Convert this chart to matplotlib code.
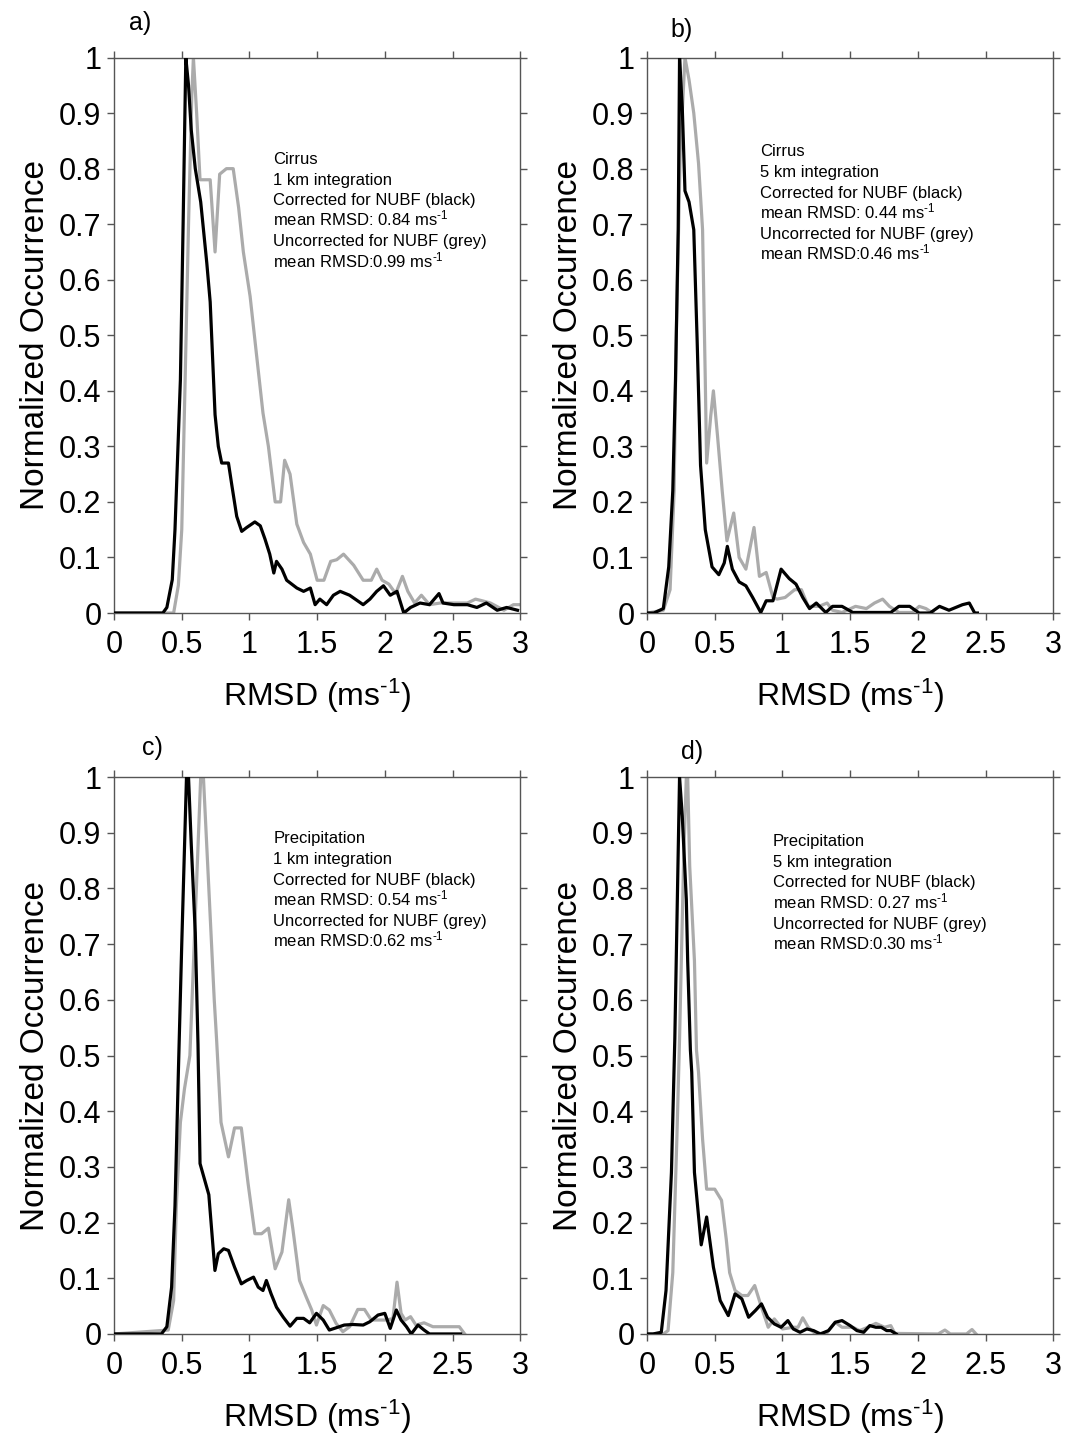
import matplotlib
matplotlib.use("Agg")
import matplotlib.pyplot as plt

plt.rcParams['font.family'] = ['Liberation Sans', 'DejaVu Sans']
plt.rcParams['mathtext.fontset'] = 'custom'
plt.rcParams['mathtext.rm'] = 'Liberation Sans'
plt.rcParams['mathtext.it'] = 'Liberation Sans:italic'
plt.rcParams['mathtext.bf'] = 'Liberation Sans:bold'

# a) cirrus, 1 km
a_x_black = [0.0, 0.36, 0.39, 0.43, 0.45, 0.49, 0.51, 0.53, 0.55, 0.57, 0.60, 0.64, 0.685, 0.71, 0.746,
             0.77, 0.795, 0.845, 0.87, 0.906, 0.943, 0.98, 1.04, 1.08, 1.115, 1.15, 1.18, 1.20, 1.24,
             1.275, 1.35, 1.40, 1.45, 1.485, 1.52, 1.57, 1.62, 1.67, 1.74, 1.84, 1.89, 1.94, 1.99,
             2.04, 2.09, 2.14, 2.19, 2.26, 2.33, 2.40, 2.43, 2.51, 2.61, 2.68, 2.75, 2.83, 2.90, 2.98]
a_y_black = [0.0, 0.0, 0.01, 0.06, 0.15, 0.42, 0.70, 1.0, 0.95, 0.87, 0.80, 0.74, 0.63, 0.56, 0.357,
             0.30, 0.27, 0.27, 0.23, 0.174, 0.147, 0.154, 0.164, 0.157, 0.133, 0.106, 0.072, 0.093, 0.079,
             0.059, 0.045, 0.039, 0.045, 0.015, 0.025, 0.015, 0.032, 0.039, 0.032, 0.015, 0.025, 0.039, 0.049,
             0.032, 0.039, 0.0, 0.01, 0.018, 0.015, 0.035, 0.018, 0.015, 0.015, 0.01, 0.018, 0.005, 0.01, 0.005]
a_x_grey = [0.0, 0.44, 0.475, 0.50, 0.525, 0.55, 0.574, 0.586, 0.61, 0.635, 0.67, 0.71, 0.746, 0.78,
            0.83, 0.88, 0.92, 0.955, 1.005, 1.05, 1.10, 1.14, 1.19, 1.23, 1.26, 1.30, 1.35, 1.40, 1.45,
            1.50, 1.55, 1.60, 1.645, 1.695, 1.77, 1.84, 1.90, 1.94, 1.98, 2.03, 2.08, 2.13, 2.17, 2.22,
            2.27, 2.33, 2.41, 2.51, 2.61, 2.67, 2.72, 2.78, 2.88, 2.95, 3.0]
a_y_grey = [0.0, 0.0, 0.05, 0.15, 0.42, 0.70, 0.93, 1.0, 0.90, 0.78, 0.78, 0.78, 0.65, 0.79,
            0.80, 0.80, 0.73, 0.65, 0.57, 0.47, 0.36, 0.30, 0.20, 0.20, 0.275, 0.25, 0.16, 0.127, 0.106,
            0.059, 0.059, 0.093, 0.096, 0.106, 0.086, 0.059, 0.059, 0.079, 0.059, 0.052, 0.035, 0.066, 0.039, 0.018,
            0.032, 0.015, 0.018, 0.018, 0.018, 0.025, 0.022, 0.018, 0.005, 0.015, 0.015]

# b) cirrus, 5 km
b_x_black = [0.0, 0.05, 0.12, 0.16, 0.19, 0.21, 0.23, 0.24, 0.26, 0.28, 0.31, 0.345, 0.37, 0.395,
             0.43, 0.48, 0.53, 0.57, 0.593, 0.63, 0.68, 0.73, 0.78, 0.84, 0.88, 0.93, 0.99, 1.05,
             1.10, 1.15, 1.20, 1.25, 1.32, 1.37, 1.44, 1.52, 1.80, 1.86, 1.94, 2.01, 2.09, 2.16,
             2.23, 2.33, 2.38, 2.42, 2.44]
b_y_black = [0.0, 0.0, 0.008, 0.083, 0.22, 0.42, 0.69, 1.0, 0.91, 0.76, 0.74, 0.69, 0.49, 0.266,
             0.15, 0.083, 0.069, 0.09, 0.12, 0.079, 0.056, 0.049, 0.028, 0.001, 0.022, 0.022, 0.079, 0.062,
             0.052, 0.028, 0.008, 0.018, 0.001, 0.012, 0.012, 0.001, 0.001, 0.012, 0.012, 0.0, 0.0, 0.012,
             0.005, 0.015, 0.018, 0.0, 0.0]
b_x_grey = [0.0, 0.12, 0.17, 0.20, 0.215, 0.245, 0.28, 0.31, 0.345, 0.38, 0.41, 0.43, 0.44, 0.47,
            0.49, 0.52, 0.555, 0.59, 0.64, 0.68, 0.73, 0.79, 0.83, 0.88, 0.93, 0.96, 1.02, 1.09,
            1.14, 1.19, 1.27, 1.33, 1.37, 1.44, 1.54, 1.62, 1.68, 1.74, 1.79, 1.86, 1.96, 2.01,
            2.06, 2.11]
b_y_grey = [0.0, 0.005, 0.042, 0.22, 0.49, 0.83, 1.0, 0.96, 0.90, 0.81, 0.69, 0.42, 0.27, 0.354,
            0.40, 0.32, 0.22, 0.13, 0.18, 0.10, 0.079, 0.154, 0.066, 0.073, 0.028, 0.025, 0.028, 0.042,
            0.042, 0.012, 0.012, 0.018, 0.005, 0.001, 0.012, 0.008, 0.018, 0.025, 0.012, 0.001, 0.001, 0.012,
            0.008, 0.0]

# c) precipitation, 1 km
c_x_black = [0.0, 0.35, 0.39, 0.425, 0.45, 0.475, 0.50, 0.535, 0.55, 0.57, 0.60, 0.62, 0.635, 0.70,
             0.745, 0.77, 0.81, 0.845, 0.89, 0.94, 0.98, 1.03, 1.065, 1.10, 1.125, 1.16, 1.20, 1.25,
             1.30, 1.35, 1.40, 1.445, 1.495, 1.545, 1.59, 1.64, 1.70, 1.765, 1.84, 1.89, 1.95, 2.00,
             2.04, 2.085, 2.12, 2.16, 2.195, 2.245, 2.29, 2.33, 2.56]
c_y_black = [0.0, 0.0, 0.013, 0.084, 0.23, 0.47, 0.70, 1.0, 1.0, 0.88, 0.72, 0.52, 0.306, 0.25,
             0.114, 0.144, 0.153, 0.15, 0.12, 0.09, 0.096, 0.102, 0.084, 0.078, 0.096, 0.072, 0.048, 0.03,
             0.014, 0.028, 0.028, 0.02, 0.037, 0.025, 0.007, 0.011, 0.016, 0.017, 0.016, 0.022, 0.034, 0.037,
             0.01, 0.043, 0.025, 0.013, 0.0, 0.016, 0.007, 0.0, 0.0]
c_x_grey = [0.0, 0.40, 0.44, 0.46, 0.49, 0.52, 0.56, 0.60, 0.64, 0.66, 0.70, 0.74, 0.757, 0.79,
            0.845, 0.89, 0.94, 0.99, 1.04, 1.09, 1.14, 1.19, 1.24, 1.29, 1.32, 1.37, 1.42, 1.46,
            1.495, 1.545, 1.59, 1.64, 1.69, 1.74, 1.80, 1.85, 1.90, 1.96, 2.02, 2.06, 2.09, 2.12,
            2.15, 2.19, 2.23, 2.29, 2.355, 2.55, 2.59]
c_y_grey = [0.0, 0.007, 0.06, 0.23, 0.38, 0.44, 0.50, 0.75, 1.0, 1.0, 0.80, 0.60, 0.53, 0.38,
            0.318, 0.37, 0.37, 0.27, 0.18, 0.18, 0.19, 0.117, 0.147, 0.241, 0.19, 0.096, 0.066, 0.043,
            0.016, 0.051, 0.043, 0.019, 0.004, 0.013, 0.044, 0.044, 0.025, 0.025, 0.025, 0.028, 0.093, 0.037,
            0.025, 0.031, 0.016, 0.02, 0.013, 0.013, 0.0]

# d) precipitation, 5 km
d_x_black = [0.0, 0.044, 0.105, 0.14, 0.18, 0.205, 0.24, 0.26, 0.29, 0.30, 0.32, 0.33, 0.35, 0.40,
             0.44, 0.49, 0.54, 0.60, 0.65, 0.70, 0.75, 0.80, 0.845, 0.89, 0.94, 0.99, 1.04, 1.08,
             1.13, 1.18, 1.23, 1.28, 1.34, 1.39, 1.44, 1.50, 1.55, 1.60, 1.645, 1.69, 1.73, 1.77,
             1.80, 1.84]
d_y_black = [0.0, 0.0, 0.003, 0.078, 0.29, 0.53, 1.0, 0.93, 0.78, 0.67, 0.51, 0.47, 0.29, 0.16,
             0.21, 0.12, 0.06, 0.033, 0.072, 0.063, 0.03, 0.042, 0.054, 0.03, 0.018, 0.012, 0.024, 0.009,
             0.003, 0.009, 0.006, 0.0, 0.006, 0.021, 0.024, 0.015, 0.006, 0.003, 0.015, 0.012, 0.012, 0.006,
             0.006, 0.0]
d_x_grey = [0.0, 0.12, 0.155, 0.19, 0.22, 0.24, 0.27, 0.29, 0.30, 0.315, 0.35, 0.365, 0.38, 0.41,
            0.44, 0.50, 0.55, 0.585, 0.61, 0.65, 0.70, 0.745, 0.795, 0.845, 0.895, 0.94, 1.00, 1.08,
            1.115, 1.15, 1.19, 1.24, 1.325, 1.39, 1.44, 1.52, 1.57, 1.63, 1.69, 1.755, 1.80, 1.83,
            2.15, 2.20, 2.24, 2.36, 2.40, 2.43]
d_y_grey = [0.0, 0.0, 0.006, 0.11, 0.35, 0.53, 0.85, 1.0, 1.0, 0.84, 0.67, 0.51, 0.47, 0.35,
            0.26, 0.26, 0.24, 0.17, 0.11, 0.078, 0.069, 0.069, 0.087, 0.048, 0.012, 0.027, 0.009, 0.012,
            0.012, 0.029, 0.012, 0.001, 0.001, 0.021, 0.012, 0.012, 0.006, 0.012, 0.019, 0.012, 0.015, 0.001,
            0.0, 0.007, 0.0, 0.0, 0.008, 0.0]

panel_letters = ['a)', 'b)', 'c)', 'd)']
panel_cloud = ['Cirrus', 'Cirrus', 'Precipitation', 'Precipitation']
panel_integration = ['1 km', '5 km', '1 km', '5 km']
mean_corrected = ['0.84', '0.44', '0.54', '0.27']
mean_uncorrected = ['0.99', '0.46', '0.62', '0.30']

x_ticks = [0, 0.5, 1, 1.5, 2, 2.5, 3]
x_tick_labels = ['0', '0.5', '1', '1.5', '2', '2.5', '3']
y_ticks = [0, 0.1, 0.2, 0.3, 0.4, 0.5, 0.6, 0.7, 0.8, 0.9, 1]
y_tick_labels = ['0', '0.1', '0.2', '0.3', '0.4', '0.5', '0.6', '0.7', '0.8', '0.9', '1']

series = [
    (a_x_black, a_y_black, a_x_grey, a_y_grey),
    (b_x_black, b_y_black, b_x_grey, b_y_grey),
    (c_x_black, c_y_black, c_x_grey, c_y_grey),
    (d_x_black, d_y_black, d_x_grey, d_y_grey),
]

# layout (figure fractions) and text spots (axes fractions)
positions = [
    [0.107, 0.574, 0.381, 0.386],
    [0.607, 0.574, 0.381, 0.386],
    [0.107, 0.073, 0.381, 0.387],
    [0.607, 0.073, 0.381, 0.387],
]
letter_pos = [(0.064, 1.063), (0.086, 1.049), (0.094, 1.052), (0.11, 1.045)]
# baseline of first note line
note_pos = [(0.392, 0.808), (0.278, 0.822), (0.392, 0.881), (0.310, 0.876)]
note_step = 0.037

GREY = '#ababab'
SPINE = '#555555'
SUP = '$^{\\text{-1}}$'

fig = plt.figure(figsize=(10.66, 14.39), dpi=100)

for i in range(4):
    ax = fig.add_axes(positions[i])
    xb, yb, xg, yg = series[i]
    ax.plot(xb, yb, color='black', lw=2.3, zorder=3)
    ax.plot(xg, yg, color=GREY, lw=2.3, zorder=2)
    ax.set_xlim(0, 3)
    ax.set_ylim(0, 1)
    ax.set_xticks(x_ticks)
    ax.set_xticklabels(x_tick_labels)
    ax.set_yticks(y_ticks)
    ax.set_yticklabels(y_tick_labels)
    ax.tick_params(direction='out', length=5, width=1, color=SPINE, labelsize=22,
                   top=True, right=True)
    ax.tick_params(axis='x', pad=7)
    ax.tick_params(axis='y', pad=4)
    for s in ax.spines.values():
        s.set_color(SPINE)
        s.set_linewidth(1)
    ax.set_xlabel('RMSD (ms' + SUP + ')', fontsize=23, labelpad=12)
    ax.set_ylabel('Normalized Occurrence', fontsize=24, labelpad=6)
    ax.text(letter_pos[i][0], letter_pos[i][1], panel_letters[i], transform=ax.transAxes,
            fontsize=18, ha='center', va='center')
    lines = [
        panel_cloud[i],
        panel_integration[i] + ' integration',
        'Corrected for NUBF (black)',
        'mean RMSD: ' + mean_corrected[i] + ' ms' + SUP,
        'Uncorrected for NUBF (grey)',
        'mean RMSD:' + mean_uncorrected[i] + ' ms' + SUP,
    ]
    for j, line in enumerate(lines):
        ax.text(note_pos[i][0], note_pos[i][1] - j * note_step, line, transform=ax.transAxes,
                fontsize=12, ha='left', va='baseline')

fig.savefig('out.png', dpi=100)
